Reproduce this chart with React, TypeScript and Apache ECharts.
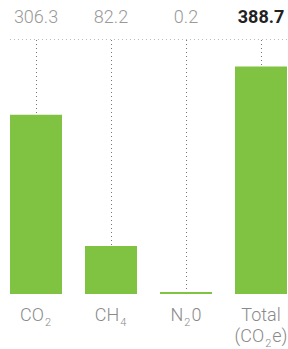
import React, { useEffect, useRef } from "react";
import * as echarts from "echarts";

const categories = ["CO2", "CH4", "N2O", "Total"];
const values = [306.3, 82.2, 0.2, 388.7];
const valueLabels = ["306.3", "82.2", "0.2", "388.7"];
const axisLabels = [
  "{n|CO}{s|2}",
  "{n|CH}{s|4}",
  "{n|N}{s|2}{n|0}",
  "{n|Total}\n{n|(CO}{s|2}{n|e)}",
];

export default function App() {
  const ref = useRef<HTMLDivElement>(null);
  useEffect(() => {
    const chart = echarts.init(ref.current!, null, { renderer: "svg" });
    const font = "Roboto";
    chart.setOption({
      animation: false,
      grid: { left: -1.5, width: 300, top: 60, bottom: 55, containLabel: false, outerBoundsMode: "none" },
      xAxis: {
        type: "category",
        data: categories,
        axisLine: { show: false },
        axisTick: { show: false },
        axisLabel: {
          margin: 10,
          interval: 0,
          formatter: (_v: string, i: number) => axisLabels[i],
          rich: {
            n: { fontFamily: font, fontSize: 18, fontWeight: 300, color: "#8a8a8a", lineHeight: 21 },
            s: { fontFamily: font, fontSize: 11, fontWeight: 300, color: "#8a8a8a", lineHeight: 21, padding: [16, 1, 0, 1] },
          },
        },
      },
      yAxis: { type: "value", min: 0, max: 400, show: false, splitLine: { show: false } },
      graphic: [
        {
          type: "line",
          shape: { x1: 10, y1: 39.5, x2: 288, y2: 39.5 },
          style: { stroke: "#bdbdbd", lineWidth: 1, lineDash: [1, 3] },
          z: 1,
        },
      ],
      series: [
        {
          type: "bar",
          data: values,
          barWidth: 52,
          barMinHeight: 2,
          itemStyle: { color: "#80c342" },
          z: 3,
        },
        {
          type: "custom",
          z: 2,
          data: values.map((v, i) => [i, v]),
          renderItem: (params: any, api: any) => {
            const i = api.value(0);
            const v = api.value(1);
            const p = api.coord([i, v]);
            const x = Math.round(p[0]) + 0.5;
            const isTotal = params.dataIndex === values.length - 1;
            return {
              type: "group",
              children: [
                {
                  type: "line",
                  shape: { x1: x, y1: 40, x2: x, y2: p[1] },
                  style: { stroke: "#777", lineWidth: 1, lineDash: [1, 3] },
                },
                {
                  type: "text",
                  style: {
                    text: valueLabels[params.dataIndex],
                    x: p[0],
                    y: 16,
                    align: "center",
                    verticalAlign: "middle",
                    fontFamily: font,
                    fontSize: 18,
                    fontWeight: isTotal ? 700 : 300,
                    fill: isTotal ? "#222" : "#999",
                  },
                },
              ],
            };
          },
        },
      ],
    });
    return () => chart.dispose();
  }, []);
  return (
    <div
      ref={ref}
      style={{ position: "fixed", left: 0, top: 0, width: 288, height: 349, background: "#fff" }}
    />
  );
}
